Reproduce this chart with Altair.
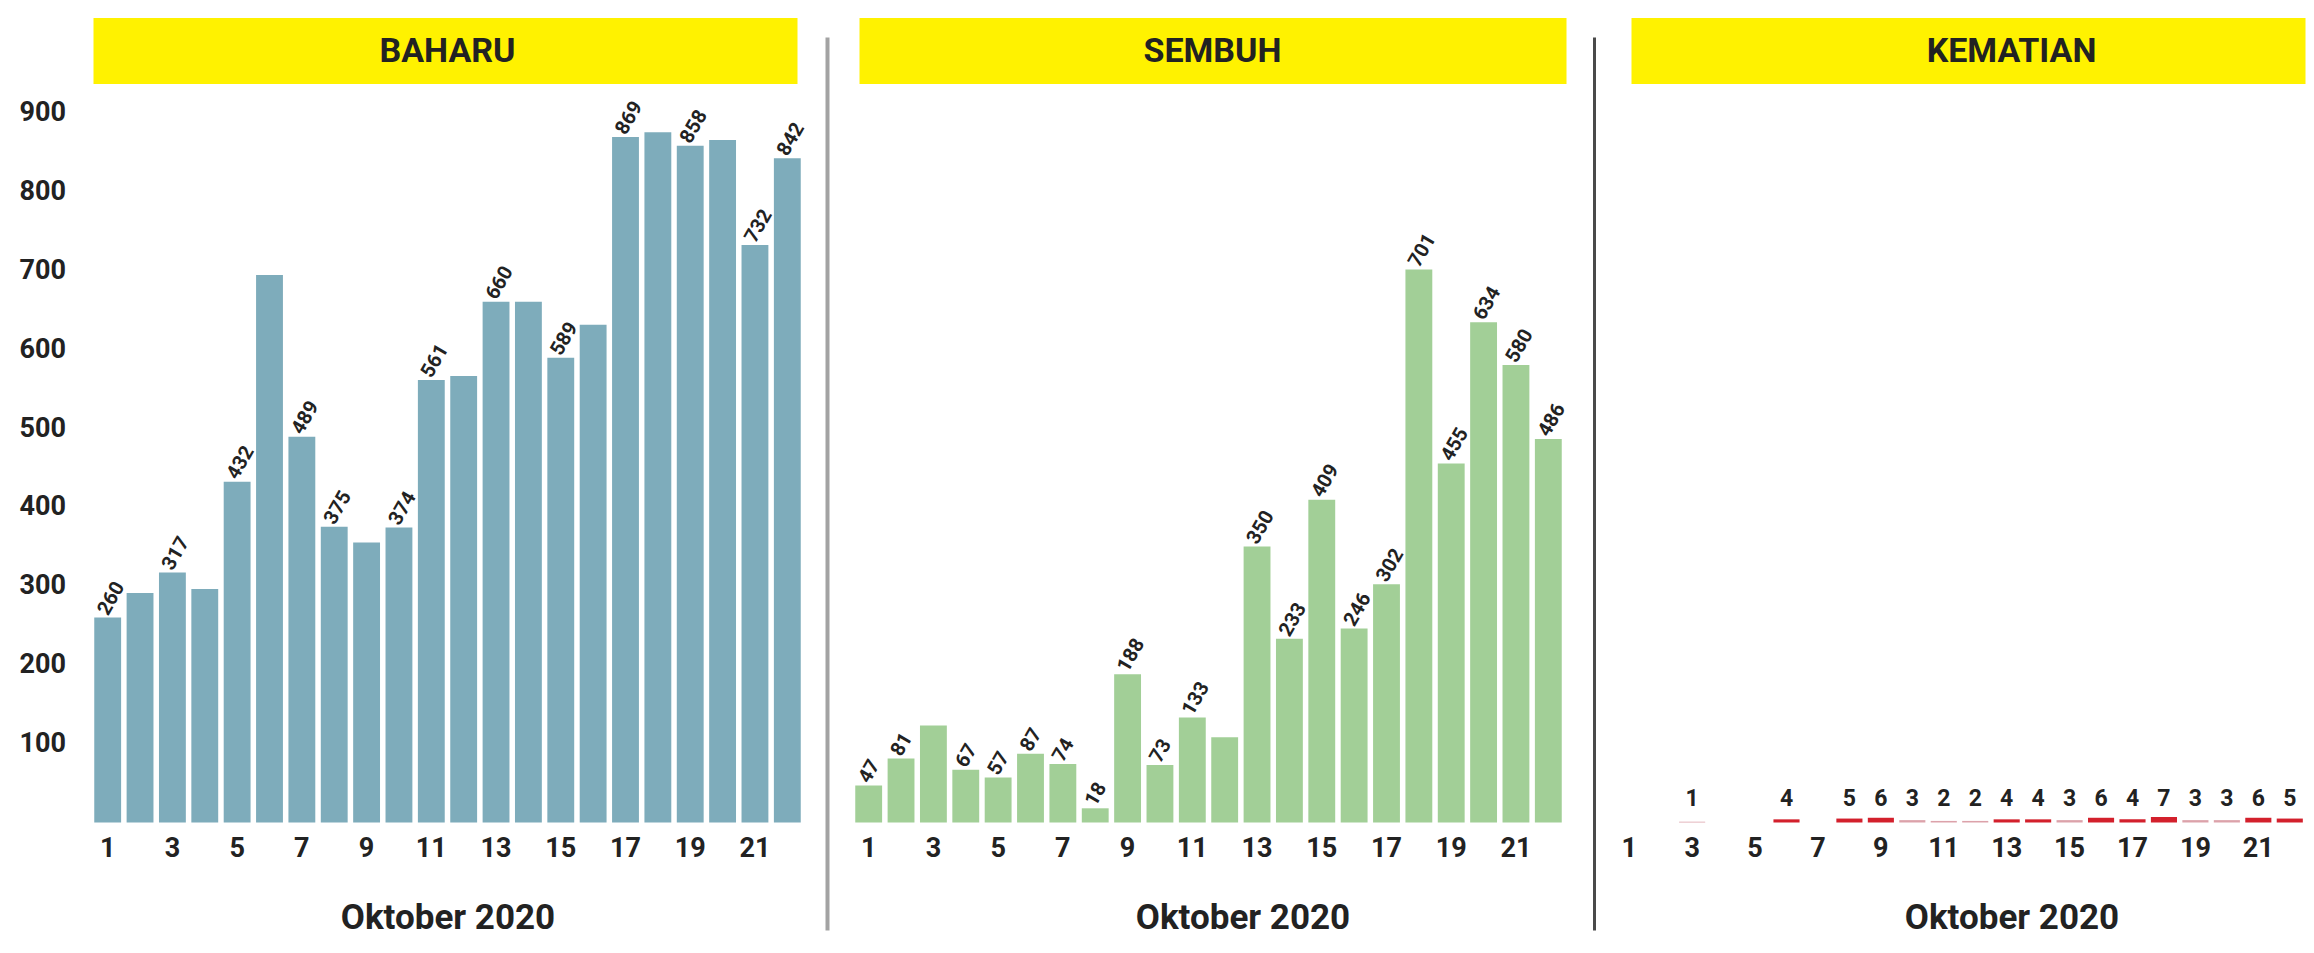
import altair as alt
import pandas as pd

# ---- data ----
days = list(range(1, 23))
baharu = [260, 291, 317, 296, 432, 694, 489, 375, 355, 374, 561, 566,
          660, 660, 589, 631, 869, 875, 858, 865, 732, 842]
baharu_labeled_days = [1, 3, 5, 7, 8, 10, 11, 13, 15, 17, 19, 21, 22]
sembuh = [47, 81, 123, 67, 57, 87, 74, 18, 188, 73, 133, 108,
          350, 233, 409, 246, 302, 701, 455, 634, 580, 486]
sembuh_labeled_days = [1, 2, 4, 5, 6, 7, 8, 9, 10, 11, 13, 14, 15, 16,
                       17, 18, 19, 20, 21, 22]
kematian = [0, 0, 1, 0, 0, 4, 0, 5, 6, 3, 2, 2, 4, 4, 3, 6, 4, 7, 3, 3, 6, 5]
panel_titles = ["BAHARU", "SEMBUH", "KEMATIAN"]
x_title = "Oktober 2020"
x_tick_values = [1, 3, 5, 7, 9, 11, 13, 15, 17, 19, 21]
y_tick_values = [100, 200, 300, 400, 500, 600, 700, 800, 900]

df = pd.DataFrame({"day": days, "baharu": baharu, "sembuh": sembuh,
                   "kematian": kematian})

FONT = "Roboto, Liberation Sans, sans-serif"
TXT = "#222222"
YELLOW = "#fff200"
W = 712
H = 710
W3 = 692


def panel(field, color, title, labeled_days, title_x, banner_x, banner_x2,
          banner_text_x, show_y, sep=None, width=W, deaths=False):
    xscale = alt.Scale(domain=days, paddingInner=0.17, paddingOuter=0.085)
    x = alt.X("day:O", scale=xscale,
              axis=alt.Axis(values=x_tick_values, labelAngle=0, ticks=False,
                            domain=False, grid=False, labelPadding=13,
                            labelFont=FONT, labelFontSize=27, labelColor=TXT,
                            labelFontWeight="bold",
                            title=x_title, titleFont=FONT, titleFontSize=35,
                            titleFontWeight="bold", titleColor=TXT,
                            titleX=title_x, titleY=106, titleAlign="center",
                            titleBaseline="alphabetic", titleAnchor="start"))
    if show_y:
        yaxis = alt.Axis(values=y_tick_values, ticks=False, domain=False,
                         grid=False, labelPadding=26, labelFont=FONT,
                         labelFontSize=27, labelColor=TXT,
                         labelFontWeight="bold", title=None)
    else:
        yaxis = None
    y = alt.Y(f"{field}:Q", scale=alt.Scale(domain=[0, 900], nice=False),
              axis=yaxis)

    base = alt.Chart(df)
    lab_src = base.transform_filter(
        alt.FieldOneOfPredicate(field="day", oneOf=labeled_days))
    if deaths:
        bars = base.transform_filter(alt.datum[field] > 0).mark_bar().encode(
            x=x, y=y, y2=alt.value(H + 4),
            color=alt.condition(alt.datum[field] <= 3, alt.value("#dca2aa"),
                                alt.value("#d3202c")))
        labels = lab_src.mark_text(font=FONT, fontSize=23, fontWeight="bold",
                                   color=TXT, align="center",
                                   baseline="bottom").encode(
            x=alt.X("day:O"), y=alt.value(H - 12), text=f"{field}:Q")
    else:
        bars = base.mark_bar(color=color).encode(x=x, y=y)
        labels = lab_src.mark_text(font=FONT, fontSize=20, fontWeight="bold",
                                   color=TXT, align="left", baseline="middle",
                                   angle=300, xOffset=-5, yOffset=-4).encode(
            x=alt.X("day:O"), y=alt.Y(f"{field}:Q"), text=f"{field}:Q")

    tdf = pd.DataFrame({"t": [title]})
    banner = alt.Chart(tdf).mark_rect(color=YELLOW).encode(
        x=alt.value(banner_x), x2=alt.value(banner_x2),
        y=alt.value(-94.5), y2=alt.value(-28.5))
    btext = alt.Chart(tdf).mark_text(font=FONT, fontSize=34, fontWeight="bold",
                                     color=TXT, align="center",
                                     baseline="middle").encode(
        x=alt.value(banner_text_x), y=alt.value(-61), text="t:N")
    layers = [bars, labels, banner, btext]
    if sep is not None:
        sx, scol, sw = sep
        rule = alt.Chart(tdf).mark_rule(color=scol, strokeWidth=sw).encode(
            x=alt.value(sx), y=alt.value(-75), y2=alt.value(818))
        layers.append(rule)
    return alt.layer(*layers).properties(width=width, height=H)


p1 = panel("baharu", "#7eacbb", panel_titles[0], baharu_labeled_days,
           title_x=356, banner_x=2, banner_x2=706, banner_text_x=356,
           show_y=True)
p2 = panel("sembuh", "#a2cf97", panel_titles[1], sembuh_labeled_days,
           title_x=390, banner_x=7, banner_x2=714, banner_text_x=360,
           show_y=False, sep=(-25, "#a3a3a3", 4))
death_days = [d for d, v in zip(days, kematian) if v > 0]
p3 = panel("kematian", "#d91f2b", panel_titles[2], death_days,
           title_x=398, banner_x=18, banner_x2=W3, banner_text_x=398,
           show_y=False, sep=(-19, "#4a4a4a", 3), width=W3, deaths=True)

chart = alt.hconcat(p1, p2, p3, spacing=49, bounds="flush").properties(
    padding={"left": 10.5, "top": 9.5, "right": 0, "bottom": 10},
    background="white"
).configure_view(strokeWidth=0, stroke="transparent")

chart.save("out.html", embed_options={"renderer": "svg", "actions": False})
